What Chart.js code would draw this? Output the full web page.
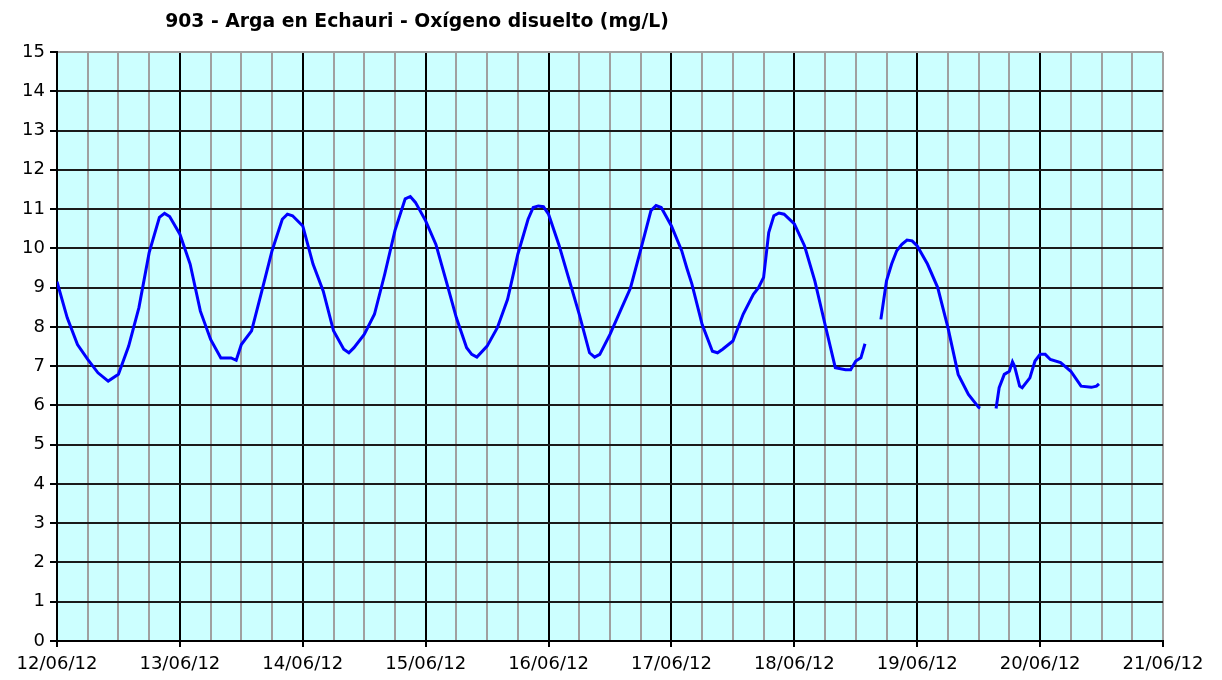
<!DOCTYPE html>
<html>
<head>
<meta charset="utf-8">
<script src="https://cdn.jsdelivr.net/npm/chart.js@4.4.0/dist/chart.umd.min.js"></script>
<style>
  html, body { margin: 0; padding: 0; background: #ffffff; }
  #wrap { width: 1222px; height: 680px; }
</style>
</head>
<body>
<div id="wrap"><canvas id="chart" width="1222" height="680"></canvas></div>
<script>
// hours since 12/06/12 00:00 (null value = gap in the record)
const hours = [
    0, 2, 4, 6, 8, 10, 12, 14, 16, 18, 20, 21, 22, 24, 26, 28, 30, 32, 34, 35,
    36, 38, 40, 42, 44, 45, 46, 48, 50, 52, 54, 56, 57, 58, 60, 62, 64, 66, 68, 69,
    70, 72, 74, 76, 78, 80, 81, 82, 84, 86, 88, 90, 92, 93, 94, 95, 96, 98, 100, 102,
    104, 105, 106, 108, 110, 112, 114, 116, 117, 118, 120, 122, 123, 124, 126, 128, 129, 130, 132, 134,
    136, 137, 138, 139, 140, 141, 142, 144, 146, 148, 150, 152, 154, 155, 156, 157, 157.8, 159,
    160.9, 162, 163, 164, 165, 166, 167, 168, 170, 172, 174, 176, 178, 180, 180.3, 182,
    183.4, 184, 185, 186, 186.6, 187, 188, 188.5, 190, 191, 192, 193, 194, 196, 198, 200, 202, 203, 203.5,
];
const oxygen = [
    9.15, 8.23, 7.55, 7.17, 6.83, 6.62, 6.79, 7.51, 8.49, 9.89, 10.79, 10.89, 10.81, 10.36, 9.6, 8.4, 7.68, 7.21, 7.21, 7.15,
    7.55, 7.9, 8.91, 9.94, 10.74, 10.87, 10.83, 10.57, 9.6, 8.91, 7.9, 7.43, 7.34, 7.47, 7.81, 8.32, 9.34, 10.45, 11.26, 11.32,
    11.17, 10.7, 10.1, 9.17, 8.23, 7.47, 7.3, 7.23, 7.51, 7.98, 8.7, 9.85, 10.74, 11.04, 11.08, 11.06, 10.87, 10.1, 9.21, 8.32,
    7.34, 7.23, 7.3, 7.81, 8.4, 8.99, 9.97, 10.96, 11.09, 11.04, 10.57, 9.94, 9.5, 9.09, 8.06, 7.38, 7.34, 7.43, 7.64, 8.32,
    8.83, 9.0, 9.26, 10.4, 10.83, 10.9, 10.87, 10.62, 10.06, 9.17, 8.06, 6.96, 6.91, 6.91, 7.13, 7.21, 7.57, null,
    8.19, 9.17, 9.6, 9.94, 10.1, 10.21, 10.19, 10.06, 9.6, 9.0, 7.98, 6.79, 6.28, 5.95, 5.93, null,
    5.92, 6.45, 6.79, 6.87, 7.11, 7.0, 6.49, 6.45, 6.7, 7.13, 7.3, 7.3, 7.17, 7.09, 6.87, 6.49, 6.46, 6.49, 6.55,
];
const dayLabels = [
    "12/06/12", "13/06/12", "14/06/12", "15/06/12", "16/06/12",
    "17/06/12", "18/06/12", "19/06/12", "20/06/12", "21/06/12",
];
const title = "903 - Arga en Echauri - Oxígeno disuelto (mg/L)";

const plotBackground = {
    id: "plotBackground",
    beforeDraw: (chart) => {
        const { ctx, chartArea } = chart;
        ctx.save();
        ctx.fillStyle = "#ccffff";
        ctx.fillRect(chartArea.left, chartArea.top, chartArea.right - chartArea.left, chartArea.bottom - chartArea.top);
        ctx.restore();
    },
};

const titleText = {
    id: "titleText",
    afterDraw: (chart) => {
        const { ctx } = chart;
        ctx.save();
        ctx.font = "bold 18.8px 'DejaVu Sans'";
        ctx.fillStyle = "#000000";
        ctx.textAlign = "center";
        ctx.textBaseline = "middle";
        ctx.fillText(title, 417, 22);
        ctx.restore();
    },
};

const tickFont = { family: "'DejaVu Sans'", size: 18 };

const chart = new Chart(document.getElementById("chart").getContext("2d"), {
    type: "line",
    data: {
        datasets: [
            {
                data: hours.map((h, i) => ({ x: h, y: oxygen[i] })),
                borderColor: "#0000ff",
                borderWidth: 3,
                pointRadius: 0,
                fill: false,
                tension: 0,
                spanGaps: false,
            },
        ],
    },
    options: {
        responsive: false,
        animation: false,
        layout: { padding: { top: 52, right: 59, bottom: 0, left: 0 } },
        plugins: {
            legend: { display: false },
            tooltip: { enabled: false },
        },
        scales: {
            x: {
                type: "linear",
                min: 0,
                max: 216,
                afterFit: (scale) => { scale.height = 39; },
                ticks: {
                    stepSize: 6,
                    autoSkip: false,
                    maxRotation: 0,
                    color: "#000000",
                    font: tickFont,
                    padding: 7,
                    callback: (v) => (v % 24 === 0 ? dayLabels[v / 24] : ""),
                },
                grid: {
                    color: (c) => (c.tick && c.tick.value % 24 === 0 && c.tick.value < 216 ? "#000000" : "#a0a0a0"),
                    lineWidth: 2,
                    tickLength: 6,
                    tickColor: (c) => (c.tick && c.tick.value % 24 === 0 ? "#000000" : "rgba(0,0,0,0)"),
                },
                border: { color: "#000000", width: 2 },
            },
            y: {
                min: 0,
                max: 15,
                afterFit: (scale) => { scale.width = 57; },
                ticks: {
                    stepSize: 1,
                    color: "#000000",
                    font: tickFont,
                    padding: 5,
                },
                grid: {
                    color: (c) => (c.tick && c.tick.value === 15 ? "#a0a0a0" : "#1a1a1a"),
                    lineWidth: 2,
                    tickLength: 7,
                    tickColor: "#000000",
                },
                border: { color: "#000000", width: 2 },
            },
        },
    },
    plugins: [plotBackground, titleText],
});
</script>
</body>
</html>
